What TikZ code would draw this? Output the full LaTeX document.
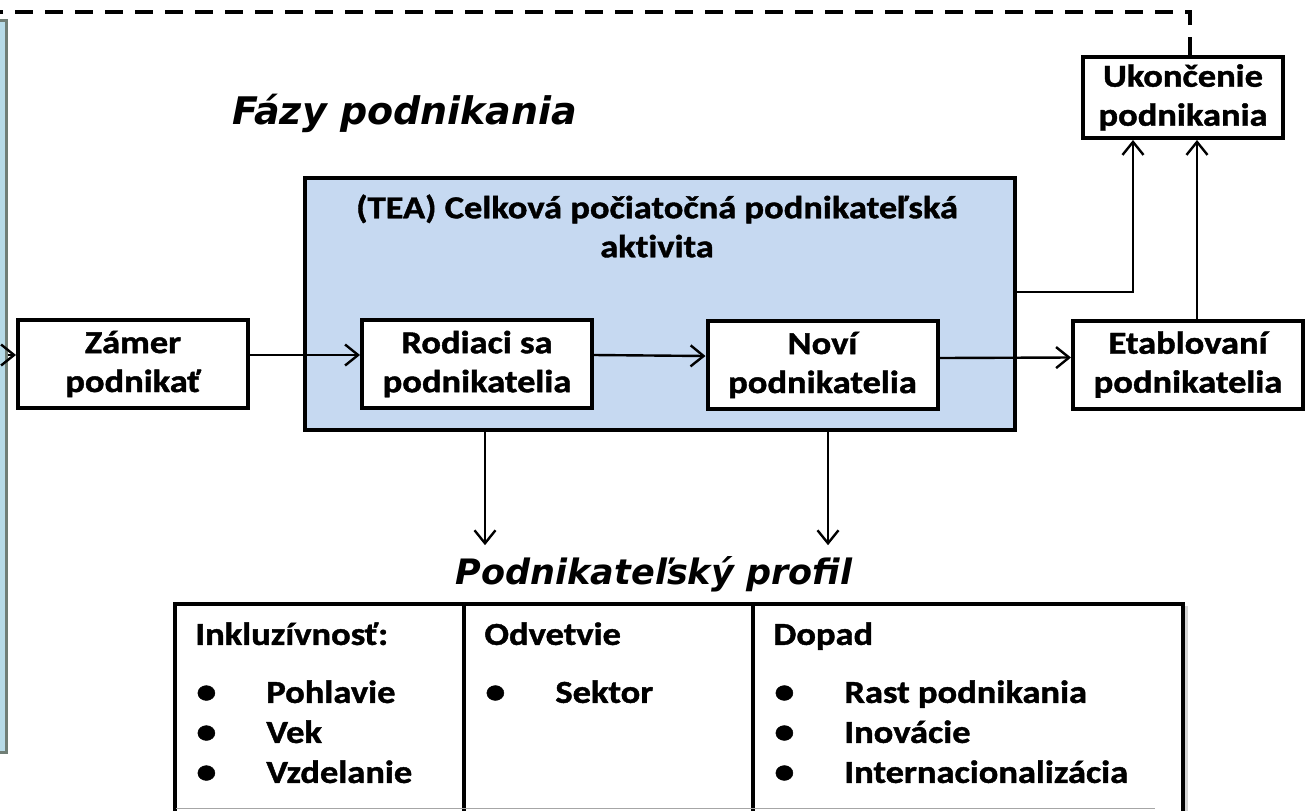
\documentclass[tikz,border=0pt]{standalone}
\usepackage{fontspec}
\setmainfont{Carlito}[FakeStretch=1.14, Ligatures=NoCommon, BoldFeatures={FakeBold=1.3}]
\newfontfamily\headfont{DejaVu Sans}
\usetikzlibrary{arrows.meta, positioning, shadows}
\definecolor{TeaFill}{RGB}{198,217,241}
\definecolor{PanelFill}{RGB}{183,219,232}
\definecolor{PanelEdge}{RGB}{112,126,118}
\newcommand{\profitem}[1]{\makebox[35.5pt][l]{\hspace{0.5pt}\scalebox{1.1}{\textbullet}}#1}

\tikzset{
  phase/.style={draw, line width=2pt, fill=white, align=center,
    minimum width=115pt, minimum height=44pt, inner sep=0pt,
    font=\fontsize{16}{19.5}\selectfont\bfseries},
  teabox/.style={draw, line width=2pt, fill=TeaFill,
    minimum width=355pt, minimum height=126pt},
  heading/.style={font=\headfont\fontsize{17.5}{21}\selectfont\bfseries\itshape},
  cell/.style={draw, line width=2pt, fill=white, outer sep=0pt,
    minimum height=120pt,
    drop shadow={shadow xshift=2.5pt, shadow yshift=-1pt, opacity=.35}},
  celltext/.style={align=left, inner sep=0pt, anchor=north west,
    font=\fontsize{16}{20}\selectfont\bfseries},
  flow/.style={-{Straight Barb[length=6.5pt,width=10.5pt]}, line width=1.2pt},
  feedback/.style={line width=1.6pt, dash pattern=on 9pt off 6pt},
}

\begin{document}
\begin{tikzpicture}[x=0.5pt, y=-0.5pt]
  \useasboundingbox (0,0) rectangle (1313,810);

  % left panel (cut off)
  \node[draw=PanelEdge, fill=PanelFill, line width=1.5pt, minimum width=8pt,
    minimum height=366pt, inner sep=0pt] (panel) at (-2,386) {};

  \node[heading, font=\headfont\fontsize{19}{23}\selectfont\bfseries\itshape] (fazy) at (405,113) {Fázy podnikania};

  % TEA
  \node[teabox] (tea) at (660,304) {};
  \node[font=\fontsize{16}{19.5}\selectfont\bfseries, align=center] (teatitle) at (657,226)
    {(TEA) Celková počiatočná podnikateľská\\ aktivita};

  \node[phase] (zamer) at (133,364) {Zámer\\ podnikať};
  \node[phase] (rodiaci) at (477,364) {Rodiaci sa\\ podnikatelia};
  \node[phase] (novi) at (822.5,365) {Noví\\ podnikatelia};
  \node[phase] (etabl) at (1188,364.5) {Etablovaní\\ podnikatelia};
  \node[phase, minimum width=100pt, minimum height=40.5pt] (ukonc) at (1183,97.5)
    {Ukončenie\\ podnikania};

  % arrows
  \coordinate (zin) at ([yshift=4.5pt]zamer.west);
  \draw[flow] (panel.east |- zin) -- (zin);
  \draw[flow] ([yshift=4.5pt]zamer.east) -- ([yshift=4.5pt]rodiaci.west);
  \draw[flow] ([yshift=4.5pt]rodiaci.east) -- ([yshift=4.5pt]novi.west);
  \draw[flow] ([yshift=3.5pt]novi.east) -- ([yshift=3.5pt]etabl.west);
  \draw[flow] ([yshift=6pt]tea.east) -| ([xshift=-25pt]ukonc.south);
  \draw[flow] ([xshift=4.5pt]etabl.north) -- ([xshift=4.5pt]etabl.north |- ukonc.south);

  % feedback
  \coordinate (back) at (0,12);
  \draw[feedback] ([xshift=3.5pt]ukonc.north) |- (back);

  % profile
  \node[heading] (profil) at (654,574) {Podnikateľský profil};
  \draw[flow, shorten >=2pt] ([xshift=-87.5pt]tea.south) -- ([xshift=-87.5pt]tea.south |- profil.north);
  \draw[flow, shorten >=2pt] ([xshift=84pt]tea.south) -- ([xshift=84pt]tea.south |- profil.north);

  \node[cell, minimum width=144.5pt, anchor=north west] (incl) at (175,604) {};
  \node[cell, minimum width=144.5pt, right=0pt of incl] (odv) {};
  \node[cell, minimum width=215pt, right=0pt of odv] (dopad) {};

  \node[celltext] at ([xshift=10pt, yshift=-9pt]incl.north west)
    {Inkluzívnosť:\\[9pt] \profitem{Pohlavie}\\ \profitem{Vek}\\ \profitem{Vzdelanie}};
  \node[celltext] at ([xshift=10pt, yshift=-9pt]odv.north west)
    {Odvetvie\\[9pt] \profitem{Sektor}};
  \node[celltext] at ([xshift=10pt, yshift=-9pt]dopad.north west)
    {Dopad\\[9pt] \profitem{Rast podnikania}\\ \profitem{Inovácie}\\ \profitem{Internacionalizácia}};

  \draw[gray!70, line width=0.7pt] (176,808.5) -- (1155,808.5);
\end{tikzpicture}
\end{document}
